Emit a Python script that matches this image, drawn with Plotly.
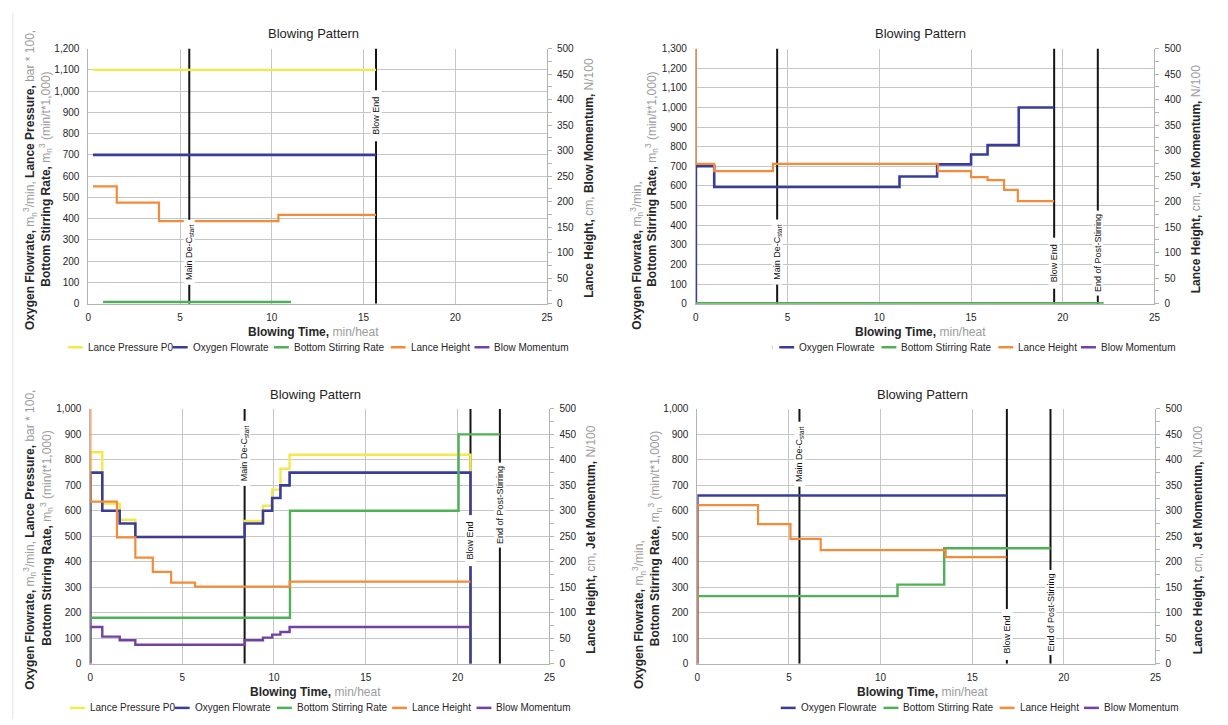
import plotly.graph_objects as go

FIG_W, FIG_H = 1228, 725
FONT = "Liberation Sans, Arial, sans-serif"
INK = "#262626"
UNIT = "#9b9b9b"
GRID = "#c6c6c6"
AXLINE = "#b3b3b3"
EVENT_COLOR = "#151515"

SERIES_NAMES = {
    "pressure": "Lance Pressure P0",
    "oxygen": "Oxygen Flowrate",
    "stirring": "Bottom Stirring Rate",
    "lance": "Lance Height",
    "momentum": "Blow Momentum",
}
SERIES_COLORS = {
    "pressure": "#f4e84a",
    "oxygen": "#3a3c9c",
    "stirring": "#4fb157",
    "lance": "#f28c3a",
    "momentum": "#7342a0",
}
SERIES_WIDTHS = {"pressure": 2.4, "oxygen": 2.6, "stirring": 2.4, "lance": 2.2, "momentum": 2.4}
RIGHT_AXIS = {"lance", "momentum"}

# ---------------- top-left heat ----------------
TL_PRESSURE_T = [0.25, 15.68]
TL_PRESSURE = [1100, 1100]
TL_OXYGEN_T = [0.25, 15.68]
TL_OXYGEN = [700, 700]
TL_STIRRING_T = [0.8, 11.05]
TL_STIRRING = [8, 8]
TL_LANCE_T = [0.25, 1.55, 3.85, 10.36, 15.68]
TL_LANCE = [230, 198, 162, 174, 174]
TL_EVENT_T = [5.5, 15.68]
TL_EVENT_LABEL = ["Main De-C<sub>start</sub>", "Blow End"]
TL_EVENT_LABEL_Y = [243, 884]

# ---------------- top-right heat ----------------
TR_OXYGEN_T = [0, 0, 1.0, 11.1, 13.15, 15.0, 15.9, 17.6, 19.53]
TR_OXYGEN = [0, 700, 595, 648, 710, 760, 808, 1000, 1000]
TR_STIRRING_T = [0, 22.23]
TR_STIRRING = [3, 3]
TR_LANCE_T = [0, 0, 1.0, 4.2, 13.2, 15.0, 15.9, 16.8, 17.55, 19.53]
TR_LANCE = [500, 274, 260, 274, 260, 248, 242, 223, 201, 201]
TR_EVENT_T = [4.43, 19.53, 21.91]
TR_EVENT_LABEL = ["Main De-C<sub>start</sub>", "Blow End", "End of Post-Stirring"]
TR_EVENT_LABEL_Y = [264, 207, 257]

# ---------------- bottom-left heat ----------------
BL_BLOW_T = [0, 0, 0.65, 1.6, 2.45, 8.4, 9.4, 9.9, 10.35, 10.85, 20.7, 20.7]
BL_PRESSURE = [0, 830, 628, 565, 497, 560, 620, 683, 765, 820, 820, 0]
BL_OXYGEN = [0, 750, 600, 550, 497, 550, 600, 650, 700, 750, 750, 0]
BL_STIRRING_T = [0, 10.87, 20.05, 22.3]
BL_STIRRING = [180, 600, 900, 900]
BL_LANCE_T = [0, 0, 1.45, 2.45, 3.4, 4.4, 5.7, 10.85, 20.7]
BL_LANCE = [500, 318, 248, 208, 180, 159, 151, 161, 161]
BL_MOMENTUM_T = [0, 0.65, 1.6, 2.45, 8.4, 9.4, 9.9, 10.35, 10.85, 20.7]
BL_MOMENTUM = [72, 53, 46, 37, 46, 51, 57, 62, 72, 72]
BL_EVENT_T = [8.4, 20.7, 22.3]
BL_EVENT_LABEL = ["Main De-C<sub>start</sub>", "Blow End", "End of Post-Stirring"]
BL_EVENT_LABEL_Y = [824, 485, 622]

# ---------------- bottom-right heat ----------------
BR_OXYGEN_T = [0, 0, 16.87]
BR_OXYGEN = [0, 660, 660]
BR_STIRRING_T = [0, 10.92, 13.47, 19.27]
BR_STIRRING = [265, 310, 453, 453]
BR_LANCE_T = [0, 0, 3.31, 5.08, 6.73, 13.55, 16.87]
BR_LANCE = [0, 311, 274, 245, 223, 209, 209]
BR_EVENT_T = [5.57, 16.89, 19.27]
BR_EVENT_LABEL = ["Main De-C<sub>start</sub>", "Blow End", "End of Post-Stirring"]
BR_EVENT_LABEL_Y = [824, 114, 203]

X_TICKS = [0, 5, 10, 15, 20, 25]


def gray(txt):
    return f"<span style='color:{UNIT}'>{txt}</span>"


M3 = "m<sub>n</sub><sup>3</sup>"
LEFT_LINE1_FULL = f"<b>Oxygen Flowrate,</b> {gray(M3 + '/min,')} <b>Lance Pressure,</b> {gray('bar * 100,')}"
LEFT_LINE1_SHORT = f"<b>Oxygen Flowrate,</b> {gray(M3 + '/min,')}"
LEFT_LINE2 = f"<b>Bottom Stirring Rate,</b> {gray(M3 + ' (min/t*1,000)')}"
X_TITLE = f"<b>Blowing Time,</b> {gray('min/heat')}"


def right_title(momentum):
    return f"<b>Lance Height,</b> {gray('cm,')} <b>{momentum},</b> {gray('N/100')}"


EVENT_BOX_W = {"Main De-C<sub>start</sub>": 64, "Blow End": 50, "End of Post-Stirring": 84}

PANELS = [
    dict(
        xdom=(86, 548), ydom=(43.3, 302.7), ymax=1200,
        series=[("pressure", TL_PRESSURE_T, TL_PRESSURE), ("oxygen", TL_OXYGEN_T, TL_OXYGEN),
                ("stirring", TL_STIRRING_T, TL_STIRRING), ("lance", TL_LANCE_T, TL_LANCE)],
        events=(TL_EVENT_T, TL_EVENT_LABEL, TL_EVENT_LABEL_Y),
        momentum="Blow Momentum", line1=LEFT_LINE1_FULL,
        title_xy=(313, 28), xtitle_xy=(312.5, 331), l1=(26.7, 332), l2=(43, 176), rt=(590, 175),
        legend_y=347, legend_keys=["pressure", "oxygen", "stirring", "lance", "momentum"],
        legend_x=[83.5, 189, 291, 408.6, 493], stub=None,
    ),
    dict(
        xdom=(698, 1160), ydom=(43.3, 302.7), ymax=1300,
        series=[("oxygen", TR_OXYGEN_T, TR_OXYGEN), ("stirring", TR_STIRRING_T, TR_STIRRING),
                ("lance", TR_LANCE_T, TR_LANCE)],
        events=(TR_EVENT_T, TR_EVENT_LABEL, TR_EVENT_LABEL_Y),
        momentum="Jet Momentum", line1=LEFT_LINE1_SHORT,
        title_xy=(924, 28), xtitle_xy=(924, 331), l1=(638.5, 331), l2=(653.5, 176), rt=(1202, 176),
        legend_y=347, legend_keys=["oxygen", "stirring", "lance", "momentum"],
        legend_x=[800, 903, 1020.7, 1104], stub=775,
    ),
    dict(
        xdom=(88, 550.5), ydom=(409.7, 668.7), ymax=1000,
        series=[("pressure", BL_BLOW_T, BL_PRESSURE), ("oxygen", BL_BLOW_T, BL_OXYGEN),
                ("stirring", BL_STIRRING_T, BL_STIRRING), ("lance", BL_LANCE_T, BL_LANCE),
                ("momentum", BL_MOMENTUM_T, BL_MOMENTUM)],
        events=(BL_EVENT_T, BL_EVENT_LABEL, BL_EVENT_LABEL_Y),
        momentum="Jet Momentum", line1=LEFT_LINE1_FULL,
        title_xy=(314.5, 395), xtitle_xy=(315, 698), l1=(27.5, 697), l2=(44, 541), rt=(592, 543),
        legend_y=713.7, legend_keys=["pressure", "oxygen", "stirring", "lance", "momentum"],
        legend_x=[85.5, 191, 294, 410, 495], stub=None,
    ),
    dict(
        xdom=(699.5, 1161), ydom=(409.7, 668.7), ymax=1000,
        series=[("oxygen", BR_OXYGEN_T, BR_OXYGEN), ("stirring", BR_STIRRING_T, BR_STIRRING),
                ("lance", BR_LANCE_T, BR_LANCE)],
        events=(BR_EVENT_T, BR_EVENT_LABEL, BR_EVENT_LABEL_Y),
        momentum="Jet Momentum", line1=LEFT_LINE1_SHORT,
        title_xy=(926, 395), xtitle_xy=(926.5, 698), l1=(640.7, 697), l2=(657, 542), rt=(1204, 543),
        legend_y=713.7, legend_keys=["oxygen", "stirring", "lance", "momentum"],
        legend_x=[801.5, 905, 1022, 1107], stub=None,
    ),
]


def fx(px):
    return px / FIG_W


def fy(py):
    return 1 - py / FIG_H


fig = go.Figure()
layout = dict(
    width=FIG_W, height=FIG_H, margin=dict(l=0, r=0, t=0, b=0),
    paper_bgcolor="white", plot_bgcolor="white", showlegend=False,
    font=dict(family=FONT, color=INK, size=10),
)
annotations = []
shapes = [
    # page edge rule on the left
    dict(type="line", xref="paper", yref="paper", x0=fx(9.8), x1=fx(9.8), y0=fy(7), y1=0,
         line=dict(color="#e4e4e4", width=1)),
]

for i, p in enumerate(PANELS, start=1):
    xid = "x" if i == 1 else f"x{i}"
    ly = 2 * i - 1
    lyid = "y" if ly == 1 else f"y{ly}"
    ryid = f"y{2 * i}"
    xkey = "xaxis" if i == 1 else f"xaxis{i}"
    lykey = "yaxis" if ly == 1 else f"yaxis{ly}"
    rykey = f"yaxis{2 * i}"

    layout[xkey] = dict(
        domain=[fx(p["xdom"][0]), fx(p["xdom"][1])], anchor=lyid, range=[0, 25],
        tickvals=X_TICKS, showgrid=True, gridcolor=GRID, gridwidth=1, zeroline=False,
        showline=True, linecolor=AXLINE, linewidth=1, ticks="", ticklabelstandoff=4,
        tickfont=dict(size=10, color=INK, family=FONT),
    )
    layout[lykey] = dict(
        domain=[fy(p["ydom"][1]), fy(p["ydom"][0])], anchor=xid, range=[0, p["ymax"]],
        dtick=100, tick0=0, tickformat=",d", showgrid=True, gridcolor=GRID, gridwidth=1,
        zeroline=False, showline=True, linecolor=AXLINE, linewidth=1, ticks="",
        ticklabelstandoff=6, tickfont=dict(size=10, color=INK, family=FONT),
    )
    layout[rykey] = dict(
        overlaying=lyid, side="right", anchor=xid, range=[0, 500], dtick=50, tick0=0,
        showgrid=False, zeroline=False, showline=True, linecolor=AXLINE, linewidth=1,
        ticks="outside", ticklen=4, tickcolor=AXLINE, ticklabelstandoff=3,
        minor=dict(dtick=25, ticks="outside", ticklen=4, tickcolor=AXLINE, showgrid=False),
        tickfont=dict(size=10, color=INK, family=FONT),
    )

    # event markers (drawn first so the series sit on top)
    ev_t, ev_label, ev_y = p["events"]
    for t, lab, yv in zip(ev_t, ev_label, ev_y):
        fig.add_trace(go.Scatter(
            x=[t, t], y=[0, p["ymax"]], mode="lines", xaxis=xid, yaxis=lyid,
            line=dict(color=EVENT_COLOR, width=2), showlegend=False, hoverinfo="skip",
        ))
        annotations.append(dict(
            x=t, y=yv, xref=xid, yref=lyid, text=lab, showarrow=False, textangle=-90,
            xanchor="center", yanchor="middle", bgcolor="white", borderpad=0,
            width=EVENT_BOX_W[lab], height=10, font=dict(size=9, color="#111111", family=FONT),
        ))

    # step series
    for key, t, v in p["series"]:
        fig.add_trace(go.Scatter(
            x=t, y=v, mode="lines", name=SERIES_NAMES[key], xaxis=xid,
            yaxis=ryid if key in RIGHT_AXIS else lyid,
            line=dict(color=SERIES_COLORS[key], width=SERIES_WIDTHS[key], shape="hv"),
            showlegend=False, hoverinfo="skip",
        ))

    # titles
    annotations.append(dict(
        x=fx(p["title_xy"][0]), y=fy(p["title_xy"][1]), xref="paper", yref="paper",
        text="Blowing Pattern", showarrow=False, xanchor="center", yanchor="middle",
        font=dict(size=13, color="#1e1e1e", family=FONT),
    ))
    annotations.append(dict(
        x=fx(p["xtitle_xy"][0]), y=fy(p["xtitle_xy"][1]), xref="paper", yref="paper",
        text=X_TITLE, showarrow=False, xanchor="center", yanchor="middle",
        font=dict(size=12, color=INK, family=FONT),
    ))
    annotations.append(dict(
        x=fx(p["l1"][0]), y=fy(p["l1"][1]), xref="paper", yref="paper",
        text=p["line1"], showarrow=False, textangle=-90, xanchor="center", yanchor="bottom",
        font=dict(size=12, color=INK, family=FONT),
    ))
    annotations.append(dict(
        x=fx(p["l2"][0]), y=fy(p["l2"][1]), xref="paper", yref="paper",
        text=LEFT_LINE2, showarrow=False, textangle=-90, xanchor="center", yanchor="middle",
        font=dict(size=12, color=INK, family=FONT),
    ))
    annotations.append(dict(
        x=fx(p["rt"][0]), y=fy(p["rt"][1]), xref="paper", yref="paper",
        text=right_title(p["momentum"]), showarrow=False, textangle=-90,
        xanchor="center", yanchor="middle", font=dict(size=12, color=INK, family=FONT),
    ))

    # key below each chart
    for key, tx in zip(p["legend_keys"], p["legend_x"]):
        shapes.append(dict(
            type="line", xref="paper", yref="paper", x0=fx(tx - 18), x1=fx(tx - 3),
            y0=fy(p["legend_y"]), y1=fy(p["legend_y"]),
            line=dict(color=SERIES_COLORS[key], width=2.5),
        ))
        annotations.append(dict(
            x=fx(tx), y=fy(p["legend_y"]), xref="paper", yref="paper",
            text=SERIES_NAMES[key], showarrow=False, xanchor="left", yanchor="middle",
            font=dict(size=10, color=INK, family=FONT),
        ))
    if p["stub"] is not None:
        shapes.append(dict(
            type="line", xref="paper", yref="paper", x0=fx(p["stub"]), x1=fx(p["stub"]),
            y0=fy(p["legend_y"] - 2), y1=fy(p["legend_y"] + 2),
            line=dict(color="#cfcfcf", width=1),
        ))

layout["annotations"] = annotations
layout["shapes"] = shapes
fig.update_layout(**layout)
fig.write_html("out.html")
